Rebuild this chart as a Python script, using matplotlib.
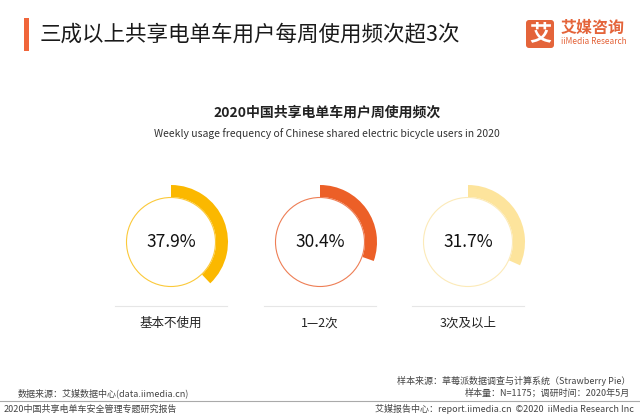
import matplotlib
matplotlib.use("Agg")
import matplotlib.pyplot as plt
from matplotlib.patches import Wedge, Circle, Rectangle, FancyBboxPatch

plt.rcParams['font.family'] = ['Noto Sans CJK SC', 'DejaVu Sans']

# datos
categorias = ["基本不使用", "1—2次", "3次及以上"]
valores = [37.9, 30.4, 31.7]
colores = ["#FBB800", "#EC5F27", "#FDE49C"]
colores_finos = ["#FBC93A", "#EE7E55", "#FCEAB8"]

W, H = 640, 416
fig = plt.figure(figsize=(6.4, 4.16), dpi=100)
ax = fig.add_axes([0, 0, 1, 1])
ax.set_xlim(0, W)
ax.set_ylim(0, H)
ax.axis("off")

def Y(y):
    return H - y

# titulo
ax.add_patch(Rectangle((24, Y(51)), 5, 33, color="#F0653A", lw=0))
ax.text(40, Y(34), "三成以上共享电单车用户每周使用频次超3次", fontsize=15.5,
        va="center", ha="left", color="#1A1A1A")

# logo
ax.add_patch(FancyBboxPatch((526, Y(48)), 28, 28, boxstyle="round,pad=0,rounding_size=3",
                            color="#E4643A", lw=0))
ax.text(540, Y(34), "艾", fontsize=16, color="white", ha="center", va="center", fontweight="bold")
ax.text(561, Y(28), "艾媒咨询", fontsize=11.5, color="#E4643A", ha="left", va="center",
        fontweight="bold")
ax.text(561, Y(42), "iiMedia Research", fontsize=6, color="#E4643A", ha="left", va="center")

# subtitulo
ax.text(327, Y(113), "2020中国共享电单车用户周使用频次", fontsize=10, fontweight="bold",
        ha="center", va="center", color="#222222")
ax.text(327, Y(134), "Weekly usage frequency of Chinese shared electric bicycle users in 2020",
        fontsize=7.5, ha="center", va="center", color="#333333")

centros = [171, 320, 468]
cy = 242
for cx, v, c, cf, cat in zip(centros, valores, colores, colores_finos, categorias):
    ax.add_patch(Wedge((cx, Y(cy)), 57, 90 - 3.6 * v, 90, width=12, color=c, lw=0))
    ax.add_patch(Circle((cx, Y(cy)), 44.5, fill=False, ec=cf, lw=0.8))
    ax.text(cx, Y(cy), f"{v}%", fontsize=12.5, ha="center", va="center", color="#111111")
    ax.plot([cx - 56, cx + 56], [Y(306), Y(306)], color="#E6E6E6", lw=0.8)
    ax.text(cx, Y(323), cat, fontsize=9, ha="center", va="center", color="#222222")

# pie
ax.text(630, Y(381), "样本来源：草莓派数据调查与计算系统（Strawberry Pie）", fontsize=6.5,
        ha="right", va="center", color="#444444")
ax.text(18, Y(393), "数据来源：艾媒数据中心(data.iimedia.cn)", fontsize=6.5,
        ha="left", va="center", color="#444444")
ax.text(630, Y(393), "样本量：N=1175；调研时间：2020年5月", fontsize=6.5,
        ha="right", va="center", color="#444444")
ax.plot([0, W], [Y(401), Y(401)], color="#AAAAAA", lw=0.8)
ax.text(4, Y(409), "2020中国共享电单车安全管理专题研究报告", fontsize=6.5,
        ha="left", va="center", color="#444444")
ax.text(634, Y(409), "艾媒报告中心：report.iimedia.cn  ©2020  iiMedia Research Inc",
        fontsize=6.5, ha="right", va="center", color="#444444")

plt.savefig("out.png", dpi=100)
